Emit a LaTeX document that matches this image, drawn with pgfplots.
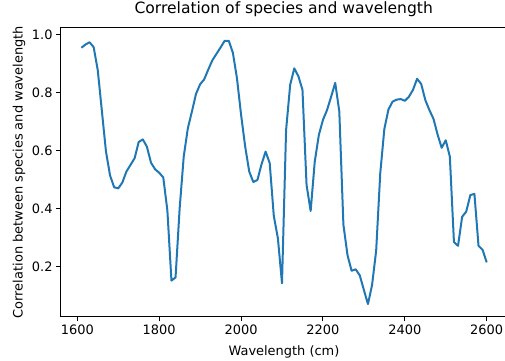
\documentclass[border=0pt]{standalone}
\usepackage{pgfplots}
\pgfplotsset{compat=1.18}
\usepackage{fontspec}
\setmainfont{DejaVu Sans}
\definecolor{mplblue}{HTML}{1F77B4}
\begin{document}
\begin{tikzpicture}
\useasboundingbox (-60.7bp,-44.3bp) rectangle (444.3bp,316.7bp);
\begin{axis}[
  at={(0,0)}, anchor=south west,
  scale only axis,
  width=444.3bp, height=289.4bp,
  xmin=1559.5, xmax=2644.7,
  ymin=0.0276, ymax=1.0255,
  axis x line*=box, axis y line*=left,
  axis line style={black, line width=1bp},
  xtick={1600,1800,2000,2200,2400,2600},
  ytick={0.2,0.4,0.6,0.8,1.0},
  xtick pos=bottom, ytick pos=left,
  tick align=outside,
  major tick length=4.6bp,
  tick style={black, line width=1bp},
  /pgf/number format/assume math mode=true,
  xticklabel style={/pgf/number format/set thousands separator={}},
  yticklabel style={/pgf/number format/.cd, fixed, fixed zerofill, precision=1},
  every tick label/.append style={font=\fontsize{13}{15}\selectfont},
  title={Correlation of species and wavelength},
  title style={at={(axis description cs:0.502,1)}, anchor=base, yshift=8.3bp, font=\fontsize{15.6}{18}\selectfont, inner sep=0pt},
  xlabel={Wavelength (cm)},
  xlabel style={at={(axis description cs:0.5025,0)}, anchor=base, yshift=-38.3bp, font=\fontsize{13}{15}\selectfont, inner sep=0pt},
  ylabel={Correlation between species and wavelength},
  ylabel style={at={(axis description cs:-0.0855,0.4995)}, anchor=base, font=\fontsize{13}{15}\selectfont, inner sep=0pt},
]
\addplot[mplblue, line width=2bp, line join=round, mark=none] table {
x y
1610 0.955
1620 0.966
1630 0.974
1640 0.957
1650 0.878
1660 0.738
1670 0.598
1680 0.515
1690 0.474
1700 0.470
1710 0.490
1720 0.528
1730 0.551
1740 0.574
1750 0.630
1760 0.639
1770 0.614
1780 0.559
1790 0.536
1800 0.524
1810 0.508
1820 0.395
1830 0.152
1840 0.163
1850 0.400
1860 0.580
1870 0.677
1880 0.735
1890 0.796
1900 0.829
1910 0.846
1920 0.880
1930 0.912
1940 0.934
1950 0.956
1960 0.979
1970 0.979
1980 0.938
1990 0.850
2000 0.725
2010 0.615
2020 0.528
2030 0.492
2040 0.499
2050 0.553
2060 0.597
2070 0.557
2080 0.375
2090 0.298
2100 0.143
2110 0.671
2120 0.827
2130 0.884
2140 0.857
2150 0.810
2160 0.482
2170 0.392
2180 0.562
2190 0.654
2200 0.706
2210 0.740
2220 0.786
2230 0.834
2240 0.735
2250 0.345
2260 0.240
2270 0.186
2280 0.191
2290 0.170
2300 0.120
2310 0.071
2320 0.137
2330 0.255
2340 0.522
2350 0.675
2360 0.742
2370 0.769
2380 0.776
2390 0.778
2400 0.772
2410 0.786
2420 0.810
2430 0.848
2440 0.830
2450 0.775
2460 0.740
2470 0.710
2480 0.656
2490 0.610
2500 0.636
2510 0.579
2520 0.285
2530 0.272
2540 0.372
2550 0.390
2560 0.447
2570 0.451
2580 0.272
2590 0.258
2600 0.215
};
\end{axis}
\end{tikzpicture}
\end{document}
